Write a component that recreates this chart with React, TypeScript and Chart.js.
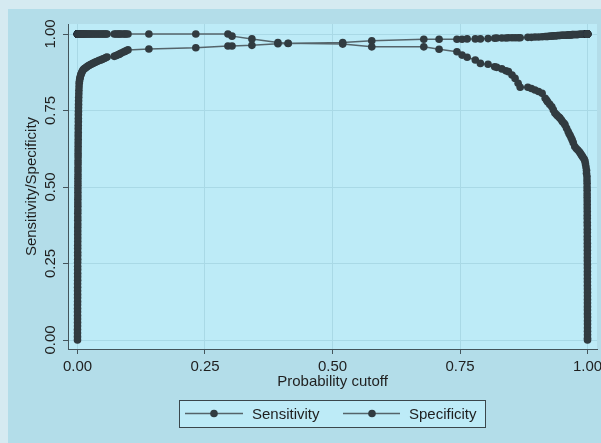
import { useEffect, useRef } from "react";
import { Chart, registerables } from "chart.js";

Chart.register(...registerables);

// ---- data ----
const seriesNames = ["Sensitivity", "Specificity"];
const xTitle = "Probability cutoff";
const yTitle = "Sensitivity/Specificity";
const tickValues = [0, 0.25, 0.5, 0.75, 1];
const tickLabels = ["0.00", "0.25", "0.50", "0.75", "1.00"];

const cutoffs = [
  // near-zero cutoffs (specificity climbing)
  0.0000, 0.0000, 0.0000, 0.0000, 0.0001, 0.0001, 0.0001, 0.0001, 0.0001, 0.0001,
  0.0001, 0.0002, 0.0002, 0.0002, 0.0002, 0.0002, 0.0002, 0.0003, 0.0003, 0.0003,
  0.0003, 0.0003, 0.0003, 0.0004, 0.0004, 0.0004, 0.0004, 0.0004, 0.0005, 0.0005,
  0.0005, 0.0005, 0.0005, 0.0006, 0.0006, 0.0006, 0.0006, 0.0007, 0.0007, 0.0007,
  0.0007, 0.0008, 0.0008, 0.0008, 0.0009, 0.0009, 0.0009, 0.0010, 0.0010, 0.0010,
  0.0011, 0.0011, 0.0012, 0.0012, 0.0012, 0.0013, 0.0013, 0.0014, 0.0014, 0.0015,
  0.0015, 0.0016, 0.0017, 0.0017, 0.0018, 0.0019, 0.0020, 0.0021, 0.0022, 0.0024,
  0.0026, 0.0028, 0.0031, 0.0034,
  // knee of specificity
  0.0038, 0.0043, 0.0049, 0.0056, 0.0064, 0.0073, 0.0083, 0.0095, 0.0108, 0.0122,
  0.0138, 0.0155, 0.0173, 0.0192, 0.0212, 0.0233, 0.0255, 0.0278, 0.0302, 0.0327,
  0.0352, 0.0378, 0.0404, 0.0430, 0.0456, 0.0482, 0.0508, 0.0534, 0.0558, 0.0580,
  0.072, 0.075, 0.078, 0.081, 0.083, 0.086, 0.090, 0.093, 0.095, 0.099, 0.140, 0.232, 0.295,
  // middle
  0.303, 0.342, 0.393, 0.413, 0.520, 0.577, 0.679, 0.709, 0.744, 0.754,
  0.764, 0.780, 0.790, 0.805, 0.818, 0.822, 0.832, 0.840, 0.845, 0.852,
  0.858, 0.864, 0.868, 0.883, 0.890, 0.897, 0.904, 0.911,
  0.917, 0.920, 0.922, 0.926, 0.930, 0.933, 0.936, 0.939, 0.941, 0.944,
  0.946, 0.949, 0.951, 0.954, 0.956,
  0.959, 0.962, 0.964, 0.966, 0.968, 0.970, 0.972, 0.975, 0.978, 0.981,
  0.984, 0.986, 0.988, 0.990, 0.992, 0.994, 0.995, 0.996, 0.997, 0.998,
  0.998, 0.999, 0.999,
  // near-one cutoffs (sensitivity falling)
  0.9992, 0.9992, 0.9993, 0.9993, 0.9993, 0.9994, 0.9994, 0.9994, 0.9995, 0.9995,
  0.9995, 0.9995, 0.9996, 0.9996, 0.9996, 0.9996, 0.9996, 0.9997, 0.9997, 0.9997,
  0.9997, 0.9997, 0.9997, 0.9998, 0.9998, 0.9998, 0.9998, 0.9998, 0.9998, 0.9998,
  0.9999, 0.9999, 0.9999, 0.9999, 0.9999, 0.9999, 0.9999, 0.9999, 1.0000, 1.0000,
  1.0000, 1.0000, 1.0000, 1.0000, 1.0000, 1.0000,
];

const sensitivity = [
  1.000, 1.000, 1.000, 1.000, 1.000, 1.000, 1.000, 1.000, 1.000, 1.000,
  1.000, 1.000, 1.000, 1.000, 1.000, 1.000, 1.000, 1.000, 1.000, 1.000,
  1.000, 1.000, 1.000, 1.000, 1.000, 1.000, 1.000, 1.000, 1.000, 1.000,
  1.000, 1.000, 1.000, 1.000, 1.000, 1.000, 1.000, 1.000, 1.000, 1.000,
  1.000, 1.000, 1.000, 1.000, 1.000, 1.000, 1.000, 1.000, 1.000, 1.000,
  1.000, 1.000, 1.000, 1.000, 1.000, 1.000, 1.000, 1.000, 1.000, 1.000,
  1.000, 1.000, 1.000, 1.000, 1.000, 1.000, 1.000, 1.000, 1.000, 1.000,
  1.000, 1.000, 1.000, 1.000,
  1.000, 1.000, 1.000, 1.000, 1.000, 1.000, 1.000, 1.000, 1.000, 1.000,
  1.000, 1.000, 1.000, 1.000, 1.000, 1.000, 1.000, 1.000, 1.000, 1.000,
  1.000, 1.000, 1.000, 1.000, 1.000, 1.000, 1.000, 1.000, 1.000, 1.000,
  1.000, 1.000, 1.000, 1.000, 1.000, 1.000, 1.000, 1.000, 1.000, 1.000, 1.000, 1.000, 1.000,
  0.993, 0.984, 0.972, 0.970, 0.967, 0.958, 0.958, 0.950, 0.942, 0.931,
  0.924, 0.915, 0.904, 0.901, 0.893, 0.891, 0.886, 0.880, 0.877, 0.866,
  0.855, 0.839, 0.826, 0.826, 0.822, 0.817, 0.812, 0.806,
  0.790, 0.783, 0.778, 0.770, 0.762, 0.752, 0.742, 0.737, 0.733, 0.729,
  0.725, 0.719, 0.713, 0.708, 0.703,
  0.692, 0.681, 0.674, 0.668, 0.661, 0.654, 0.645, 0.632, 0.626, 0.621,
  0.615, 0.610, 0.605, 0.600, 0.595, 0.590, 0.584, 0.575, 0.565, 0.555,
  0.545, 0.534, 0.523,
  0.512, 0.500, 0.489, 0.477, 0.466, 0.454, 0.443, 0.431, 0.420, 0.408,
  0.397, 0.385, 0.374, 0.362, 0.351, 0.339, 0.328, 0.316, 0.305, 0.293,
  0.282, 0.270, 0.259, 0.247, 0.236, 0.224, 0.213, 0.201, 0.190, 0.178,
  0.167, 0.155, 0.144, 0.132, 0.121, 0.109, 0.098, 0.086, 0.075, 0.063,
  0.052, 0.040, 0.029, 0.017, 0.006, 0.000,
];

const specificity = [
  0.000, 0.011, 0.023, 0.034, 0.046, 0.057, 0.069, 0.080, 0.092, 0.103,
  0.115, 0.126, 0.138, 0.149, 0.161, 0.172, 0.184, 0.195, 0.207, 0.218,
  0.230, 0.241, 0.253, 0.264, 0.276, 0.287, 0.299, 0.310, 0.322, 0.333,
  0.345, 0.356, 0.368, 0.379, 0.391, 0.402, 0.414, 0.425, 0.437, 0.448,
  0.460, 0.471, 0.483, 0.494, 0.506, 0.517, 0.529, 0.540, 0.552, 0.563,
  0.575, 0.586, 0.598, 0.609, 0.621, 0.632, 0.644, 0.655, 0.667, 0.678,
  0.690, 0.701, 0.713, 0.724, 0.736, 0.747, 0.759, 0.770, 0.782, 0.793,
  0.805, 0.816, 0.828, 0.839,
  0.845, 0.851, 0.856, 0.861, 0.866, 0.870, 0.874, 0.878, 0.882, 0.885,
  0.887, 0.889, 0.891, 0.894, 0.896, 0.898, 0.900, 0.902, 0.904, 0.906,
  0.908, 0.910, 0.912, 0.914, 0.915, 0.917, 0.919, 0.921, 0.923, 0.925,
  0.927, 0.929, 0.931, 0.933, 0.935, 0.938, 0.941, 0.943, 0.945, 0.948, 0.951, 0.955, 0.961,
  0.961, 0.963, 0.968, 0.969, 0.972, 0.978, 0.983, 0.983, 0.983, 0.983,
  0.984, 0.984, 0.984, 0.985, 0.986, 0.987, 0.987, 0.987, 0.988, 0.988,
  0.988, 0.988, 0.988, 0.989, 0.989, 0.990, 0.990, 0.991,
  0.992, 0.992, 0.992, 0.993, 0.993, 0.994, 0.994, 0.994, 0.995, 0.995,
  0.995, 0.996, 0.996, 0.996, 0.996,
  0.996, 0.997, 0.997, 0.997, 0.997, 0.998, 0.998, 0.998, 0.998, 0.998,
  0.999, 0.999, 0.999, 0.999, 0.999, 0.999, 1.000, 1.000, 1.000, 1.000,
  1.000, 1.000, 1.000,
  1.000, 1.000, 1.000, 1.000, 1.000, 1.000, 1.000, 1.000, 1.000, 1.000,
  1.000, 1.000, 1.000, 1.000, 1.000, 1.000, 1.000, 1.000, 1.000, 1.000,
  1.000, 1.000, 1.000, 1.000, 1.000, 1.000, 1.000, 1.000, 1.000, 1.000,
  1.000, 1.000, 1.000, 1.000, 1.000, 1.000, 1.000, 1.000, 1.000, 1.000,
  1.000, 1.000, 1.000, 1.000, 1.000, 1.000,
];

// ---- style ----
const PAGE_BG = "#d5eaf1";
const GRAPH_BG = "#b3dde9";
const PLOT_BG = "#bdebf7";
const GRID = "#a9d9e6";
const AXIS = "#44545b";
const MARKER = "#313b40";
const LINE = "#55646a";
const TEXT = "#1f1f1f";
const FONT = "'Liberation Sans', Arial, Helvetica, sans-serif";
const FONT_SIZE = 15;
const W = 593;
const H = 434;

const bgPlugin = {
  id: "bgPlugin",
  beforeDraw(chart: any) {
    const { ctx, chartArea, width, height } = chart;
    ctx.save();
    ctx.fillStyle = GRAPH_BG;
    ctx.fillRect(0, 0, width, height);
    ctx.fillStyle = PLOT_BG;
    ctx.fillRect(chartArea.left, chartArea.top, chartArea.right - chartArea.left, chartArea.bottom - chartArea.top);
    ctx.restore();
  },
  afterDraw(chart: any) {
    const { ctx } = chart;
    const yScale = chart.scales.y;
    ctx.save();
    // rotated y tick labels (Stata style)
    ctx.fillStyle = TEXT;
    ctx.font = `${FONT_SIZE}px ${FONT}`;
    ctx.textAlign = "center";
    ctx.textBaseline = "alphabetic";
    tickValues.forEach((v, i) => {
      const py = yScale.getPixelForValue(v);
      ctx.save();
      ctx.translate(47, py);
      ctx.rotate(-Math.PI / 2);
      ctx.fillText(tickLabels[i], 0, 0);
      ctx.restore();
    });

    // legend box
    const bx = 171.5, by = 391.5, bw = 306, bh = 27;
    ctx.fillStyle = PLOT_BG;
    ctx.fillRect(bx, by, bw, bh);
    ctx.strokeStyle = "#3a474c";
    ctx.lineWidth = 1;
    ctx.strokeRect(bx, by, bw, bh);
    const items = [
      { x1: 177, x2: 235, dot: 206, tx: 244 },
      { x1: 335, x2: 392, dot: 364, tx: 401 },
    ];
    const ly = 404.5;
    items.forEach((it, i) => {
      ctx.strokeStyle = LINE;
      ctx.lineWidth = 1.5;
      ctx.beginPath();
      ctx.moveTo(it.x1, ly);
      ctx.lineTo(it.x2, ly);
      ctx.stroke();
      ctx.fillStyle = MARKER;
      ctx.beginPath();
      ctx.arc(it.dot, ly, 3.8, 0, Math.PI * 2);
      ctx.fill();
      ctx.fillStyle = TEXT;
      ctx.textAlign = "left";
      ctx.textBaseline = "alphabetic";
      ctx.fillText(seriesNames[i], it.tx, 410);
    });
    ctx.restore();
  },
};

export default function App() {
  const ref = useRef<HTMLCanvasElement>(null);

  useEffect(() => {
    document.body.style.background = PAGE_BG;
    document.body.style.overflow = "hidden";
    document.documentElement.style.overflow = "hidden";
    Chart.defaults.font.family = FONT;
    Chart.defaults.font.size = FONT_SIZE;
    Chart.defaults.color = TEXT;

    const makeData = (vals: number[]) => cutoffs.map((c, i) => ({ x: c, y: vals[i] }));
    const dsStyle = {
      showLine: true,
      borderColor: LINE,
      borderWidth: 1.5,
      pointRadius: 3.8,
      pointHoverRadius: 3.8,
      pointBackgroundColor: MARKER,
      pointBorderColor: MARKER,
      pointBorderWidth: 0,
      tension: 0,
    };

    const setTicks = (scale: any) => {
      scale.ticks = tickValues.map((v) => ({ value: v }));
    };
    const fmt = (v: any) => tickLabels[tickValues.indexOf(Number(v))] ?? "";

    const chart = new Chart(ref.current!, {
      type: "scatter",
      data: {
        datasets: [
          { label: seriesNames[0], data: makeData(sensitivity), ...dsStyle },
          { label: seriesNames[1], data: makeData(specificity), ...dsStyle },
        ],
      },
      options: {
        responsive: false,
        animation: false,
        events: [],
        layout: { padding: { top: 15, right: 4, bottom: 44, left: 0 } },
        plugins: {
          legend: { display: false },
          tooltip: { enabled: false },
        },
        scales: {
          x: {
            type: "linear",
            min: -0.0186,
            max: 1.0186,
            afterBuildTicks: setTicks,
            afterFit: (s: any) => {
              s.height = 50;
              s.paddingLeft = 0;
              s.paddingRight = 0;
            },
            ticks: {
              autoSkip: false,
              maxRotation: 0,
              minRotation: 0,
              padding: 4,
              color: TEXT,
              font: { size: FONT_SIZE, family: FONT },
              callback: fmt,
            },
            grid: { color: GRID, lineWidth: 1, drawTicks: true, tickLength: 5, tickColor: AXIS },
            border: { display: true, color: AXIS, width: 1 },
            title: {
              display: true,
              text: xTitle,
              color: TEXT,
              font: { size: FONT_SIZE, family: FONT },
              padding: { top: 0, bottom: 8 },
            },
          },
          y: {
            type: "linear",
            min: -0.0294,
            max: 1.0327,
            afterBuildTicks: setTicks,
            afterFit: (s: any) => {
              s.width = 60;
              s.paddingTop = 0;
              s.paddingBottom = 0;
            },
            ticks: {
              color: "rgba(0,0,0,0)",
              padding: 4,
              font: { size: FONT_SIZE, family: FONT },
              callback: fmt,
            },
            grid: { color: GRID, lineWidth: 1, drawTicks: true, tickLength: 5, tickColor: AXIS },
            border: { display: true, color: AXIS, width: 1 },
            title: {
              display: true,
              text: yTitle,
              color: TEXT,
              font: { size: FONT_SIZE, family: FONT },
              padding: { top: 15, bottom: 0 },
            },
          },
        },
      },
      plugins: [bgPlugin],
    } as any);

    return () => chart.destroy();
  }, []);

  return (
    <div style={{ position: "fixed", left: 8, top: 9, width: W, height: H }}>
      <canvas ref={ref} width={W} height={H} style={{ display: "block", width: W, height: H }} />
    </div>
  );
}
